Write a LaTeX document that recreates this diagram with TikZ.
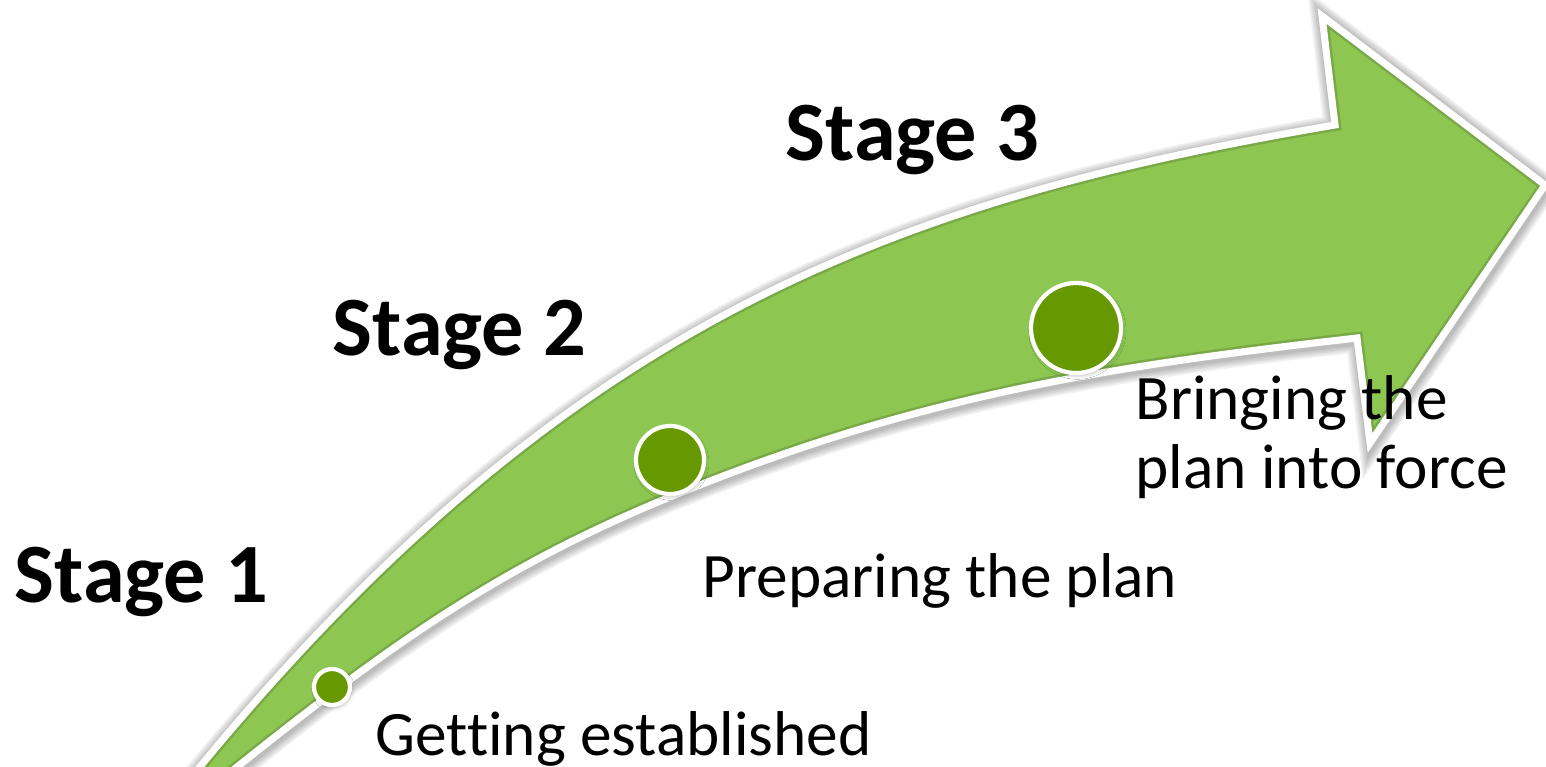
\documentclass[tikz,border=0pt]{standalone}
\usepackage{fontspec}
\setmainfont{Carlito}[Ligatures=NoCommon]
\usetikzlibrary{shadows.blur}
\definecolor{arrowgreen}{RGB}{141,199,82}
\definecolor{dotgreen}{RGB}{102,153,0}
\tikzset{
  stagelabel/.style={anchor=base west, inner sep=0pt, font=\fontsize{24}{29}\selectfont\bfseries},
  steplabel/.style={anchor=base west, inner sep=0pt, align=left, font=\fontsize{18}{19.4}\selectfont},
  stagedot/.style={circle, fill=dotgreen, draw=white, line width=1.2pt, inner sep=0pt,
    blur shadow={shadow xshift=0.4pt, shadow yshift=-0.8pt, shadow blur radius=1pt, shadow opacity=25}},
}
\newcommand{\arrowoutline}{(173,800) .. controls (553,325) and (885,201.5) .. (1335,125) -- (1322,16) -- (1545,185) -- (1370,443) -- (1357,338) .. controls (1107,366.75) and (920,394.5) .. (670,497) .. controls (490,570.8) and (376,654.2) .. (196,800) -- cycle}
\begin{document}
\begin{tikzpicture}[x=0.01cm, y=-0.01cm]
\useasboundingbox (0,0) rectangle (1546,767);
\clip (0,0) rectangle (1546,767);
% soft shadow round the arrow
\foreach \w in {7,6,5,4,3}
  \draw[black, opacity=0.06, line width=\w pt, line join=miter, shift={(1,2)}] \arrowoutline;
% the curved arrow
\fill[arrowgreen] \arrowoutline;
\begin{scope}
\clip \arrowoutline;
\draw[arrowgreen!85!black, line width=3.4pt, line join=miter] \arrowoutline;
\end{scope}
\draw[white, line width=2pt, line join=miter] \arrowoutline;
% dots on the arrow
\node[stagedot, minimum size=0.36cm] (dot1) at (332,687) {};
\node[stagedot, minimum size=0.68cm] (dot2) at (670,460) {};
\node[stagedot, minimum size=0.9cm] (dot3) at (1076,328) {};
% labels
\node[stagelabel] (stage1) at (14,602) {Stage 1};
\node[stagelabel] (stage2) at (332,355) {Stage 2};
\node[stagelabel] (stage3) at (785,160) {Stage 3};
\node[steplabel] (step1) at (375,755) {Getting established};
\node[steplabel] (step2) at (702,597) {Preparing the plan};
\node[steplabel] (step3) at (1135,488) {Bringing the\\plan into force};
\end{tikzpicture}
\end{document}
